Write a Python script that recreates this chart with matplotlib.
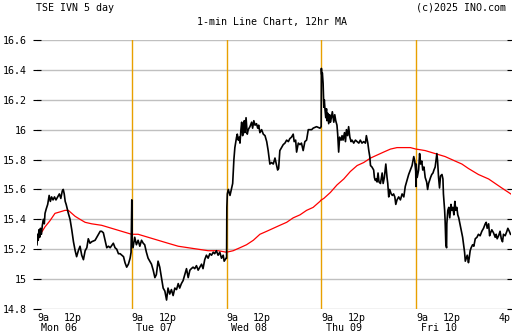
import matplotlib.pyplot as plt
import matplotlib.transforms as mtransforms

# 1-min prices: minutes after the open, price
mon_t = [0, 3, 5, 8, 11, 14, 18, 22, 26, 30, 33, 38, 44, 50, 55, 60, 66, 72, 78, 85,
         92, 98, 104, 108, 112, 116, 120, 129, 136, 143, 150, 157, 163, 170, 177, 184, 191, 198, 205, 211,
         218, 225, 239, 253, 260, 266, 273, 280, 287, 294, 301, 314, 321, 328, 335, 342, 349, 356, 362, 369,
         376, 383, 387]
mon_p = [15.23, 15.30, 15.26, 15.33, 15.28, 15.34, 15.30, 15.36, 15.40, 15.37, 15.44, 15.47, 15.50, 15.56, 15.52, 15.55, 15.53, 15.55, 15.53, 15.55,
         15.57, 15.54, 15.59, 15.60, 15.57, 15.52, 15.50, 15.44, 15.40, 15.33, 15.25, 15.19, 15.15, 15.19, 15.22, 15.16, 15.13, 15.19, 15.21, 15.27,
         15.24, 15.25, 15.26, 15.30, 15.32, 15.32, 15.31, 15.26, 15.21, 15.22, 15.21, 15.24, 15.21, 15.20, 15.17, 15.17, 15.16, 15.15, 15.11, 15.08,
         15.10, 15.14, 15.18]

tue_t = [0, 1, 5, 12, 19, 26, 33, 40, 47, 53, 60, 67, 74, 81, 88, 95, 101, 108, 115, 122,
         129, 136, 143, 149, 156, 163, 170, 177, 184, 191, 197, 204, 211, 218, 225, 232, 239, 245, 252, 259,
         266, 273, 280, 287, 293, 300, 307, 314, 321, 328, 335, 341, 348, 355, 362, 369, 376, 380, 388]
tue_p = [15.53, 15.26, 15.21, 15.28, 15.23, 15.26, 15.22, 15.26, 15.24, 15.23, 15.18, 15.14, 15.12, 15.10, 15.06, 15.01, 15.03, 15.12, 15.08, 15.01,
         14.94, 14.92, 14.86, 14.94, 14.90, 14.93, 14.89, 14.94, 14.93, 14.97, 14.94, 14.97, 14.99, 15.03, 15.07, 15.01, 15.06, 15.07, 15.08, 15.07,
         15.09, 15.06, 15.08, 15.10, 15.07, 15.13, 15.16, 15.14, 15.17, 15.16, 15.18, 15.17, 15.19, 15.16, 15.18, 15.14, 15.16, 15.12, 15.14]

wed_t = [0, 1, 3, 7, 14, 21, 25, 30, 34, 41, 44, 48, 52, 55, 59, 62, 66, 69, 73, 75,
         80, 85, 89, 96, 103, 107, 112, 117, 123, 128, 132, 137, 144, 151, 158, 165, 171, 178, 185, 192,
         199, 206, 210, 214, 219, 226, 233, 240, 247, 254, 260, 267, 274, 278, 284, 288, 295, 302, 308, 315,
         322, 329, 336, 343, 350, 356, 370, 384, 389]
wed_p = [15.14, 15.48, 15.57, 15.60, 15.56, 15.61, 15.64, 15.80, 15.88, 15.95, 15.97, 15.93, 15.95, 15.91, 16.00, 16.05, 15.96, 16.02, 16.06, 15.98,
         16.08, 15.97, 16.00, 16.02, 16.05, 16.01, 16.06, 16.03, 16.04, 16.01, 16.03, 15.98, 16.00, 15.97, 15.96, 15.92, 15.86, 15.77, 15.78, 15.77,
         15.81, 15.76, 15.73, 15.74, 15.86, 15.88, 15.90, 15.91, 15.93, 15.92, 15.94, 15.95, 15.97, 15.92, 15.93, 15.85, 15.91, 15.90, 15.91, 15.86,
         15.92, 15.93, 16.00, 16.00, 16.00, 16.01, 16.02, 16.01, 16.02]

thu_t = [0, 1, 4, 7, 10, 12, 15, 18, 21, 23, 26, 30, 34, 37, 41, 45, 51, 55, 59, 64,
         67, 71, 75, 81, 85, 89, 95, 99, 103, 108, 112, 117, 122, 126, 133, 140, 147, 154, 160, 167,
         174, 181, 185, 191, 195, 199, 202, 208, 215, 218, 222, 226, 229, 233, 237, 243, 250, 254, 259, 265,
         270, 273, 277, 281, 287, 292, 297, 302, 306, 311, 318, 325, 332, 339, 345, 352, 359, 366, 373, 380,
         384, 388, 389]
thu_p = [16.41, 16.37, 16.38, 16.31, 16.15, 16.20, 16.13, 16.08, 16.14, 16.06, 16.11, 16.04, 16.10, 16.05, 16.08, 16.12, 16.05, 16.10, 16.06, 16.03,
         15.97, 15.85, 15.95, 15.93, 15.96, 15.93, 15.98, 15.92, 16.00, 15.96, 16.02, 15.95, 15.92, 15.93, 15.91, 15.93, 15.92, 15.91, 15.93, 15.91,
         15.92, 15.91, 15.96, 15.91, 15.86, 15.82, 15.76, 15.75, 15.73, 15.68, 15.66, 15.67, 15.65, 15.71, 15.65, 15.64, 15.71, 15.64, 15.68, 15.77,
         15.68, 15.64, 15.55, 15.60, 15.57, 15.56, 15.57, 15.55, 15.50, 15.53, 15.55, 15.53, 15.57, 15.55, 15.62, 15.66, 15.70, 15.73, 15.76, 15.82,
         15.79, 15.72, 15.62]

fri_t = [0, 4, 10, 14, 18, 23, 27, 32, 37, 43, 47, 51, 55, 59, 64, 69, 73, 78, 82, 85,
         88, 92, 96, 100, 106, 110, 112, 117, 119, 122, 125, 126, 130, 134, 138, 143, 147, 151, 155, 159,
         163, 167, 171, 175, 181, 185, 191, 195, 199, 202, 206, 210, 215, 218, 222, 226, 232, 237, 243, 250,
         256, 263, 270, 277, 284, 288, 292, 298, 302, 306, 311, 318, 325, 329, 333, 339, 345, 350, 355, 359,
         366, 373, 377, 383, 388]
fri_p = [15.77, 15.68, 15.73, 15.84, 15.77, 15.79, 15.73, 15.75, 15.68, 15.65, 15.60, 15.64, 15.66, 15.68, 15.70, 15.71, 15.73, 15.75, 15.80, 15.84,
         15.79, 15.68, 15.61, 15.69, 15.70, 15.67, 15.57, 15.46, 15.39, 15.23, 15.21, 15.37, 15.46, 15.48, 15.41, 15.50, 15.46, 15.48, 15.43, 15.52,
         15.46, 15.48, 15.43, 15.41, 15.36, 15.33, 15.28, 15.23, 15.18, 15.12, 15.14, 15.16, 15.11, 15.14, 15.19, 15.21, 15.23, 15.22, 15.27, 15.28,
         15.30, 15.29, 15.32, 15.34, 15.37, 15.38, 15.34, 15.37, 15.29, 15.31, 15.33, 15.31, 15.28, 15.30, 15.27, 15.29, 15.32, 15.27, 15.25, 15.30,
         15.29, 15.32, 15.34, 15.32, 15.30]

# 12hr moving average
mon_ma_t = [0, 14, 33, 53, 74, 95, 115, 129, 143, 157, 177, 198, 225, 266, 307, 348, 389]
mon_ma_p = [15.25, 15.30, 15.35, 15.39, 15.44, 15.45, 15.46, 15.46, 15.44, 15.42, 15.40, 15.38, 15.37, 15.36, 15.34, 15.32, 15.30]
tue_ma_t = [0, 26, 67, 108, 149, 191, 232, 273, 314, 355, 389]
tue_ma_p = [15.30, 15.30, 15.28, 15.26, 15.24, 15.22, 15.21, 15.20, 15.19, 15.19, 15.18]
wed_ma_t = [0, 27, 55, 82, 110, 137, 165, 192, 219, 247, 274, 302, 329, 356, 384, 389]
wed_ma_p = [15.18, 15.19, 15.21, 15.23, 15.26, 15.30, 15.32, 15.34, 15.36, 15.38, 15.41, 15.43, 15.46, 15.48, 15.52, 15.53]
thu_ma_t = [0, 10, 37, 64, 92, 119, 147, 174, 202, 229, 256, 284, 311, 339, 366, 389]
thu_ma_p = [15.53, 15.54, 15.58, 15.63, 15.67, 15.72, 15.76, 15.78, 15.81, 15.83, 15.85, 15.87, 15.88, 15.88, 15.88, 15.87]
fri_ma_t = [0, 37, 78, 119, 160, 188, 215, 256, 298, 325, 352, 380, 389]
fri_ma_p = [15.87, 15.86, 15.84, 15.82, 15.79, 15.77, 15.74, 15.70, 15.67, 15.64, 15.61, 15.58, 15.57]

day_names = ["Mon 06", "Tue 07", "Wed 08", "Thu 09", "Fri 10"]
y_ticks = [14.8, 15, 15.2, 15.4, 15.6, 15.8, 16, 16.2, 16.4, 16.6]
y_labels = ["14.8", "15", "15.2", "15.4", "15.6", "15.8", "16", "16.2", "16.4", "16.6"]

session = 390.0  # minutes per day on the x axis

price_days = [(mon_t, mon_p), (tue_t, tue_p), (wed_t, wed_p), (thu_t, thu_p), (fri_t, fri_p)]
ma_days = [(mon_ma_t, mon_ma_p), (tue_ma_t, tue_ma_p), (wed_ma_t, wed_ma_p),
           (thu_ma_t, thu_ma_p), (fri_ma_t, fri_ma_p)]

px, py = [], []
for i, (t, p) in enumerate(price_days):
    px += [i + m / session for m in t]
    py += p

mx, my = [], []
for i, (t, p) in enumerate(ma_days):
    mx += [i + m / session for m in t]
    my += p

plt.rcParams['font.family'] = ['DejaVu Sans Mono']
font_size = 7.2

fig = plt.figure(figsize=(5.12, 3.35), dpi=100)
ax = fig.add_axes([37 / 512, 1 - 309 / 335, (511 - 37) / 512, (309 - 40) / 335])

ax.set_xlim(0, 5)
ax.set_ylim(14.8, 16.6)

for y in y_ticks:
    ax.axhline(y, color='#c0c0c0', linewidth=1.0, zorder=1)
for d in range(1, 5):
    ax.axvline(d, color='#e8a000', linewidth=1.0, zorder=1.5)

ax.plot(mx, my, color='#ff0000', linewidth=0.9, zorder=2)
ax.plot(px, py, color='black', linewidth=1.2, zorder=3)

for s in ax.spines.values():
    s.set_visible(False)

ax.set_yticks(y_ticks)
ax.set_yticklabels(y_labels, fontsize=font_size)
ax.tick_params(axis='y', left=True, right=True, direction='inout', length=6,
               width=0.8, color='black', pad=4)
ax.set_xticks([])

# time labels under the axis
trans = mtransforms.blended_transform_factory(ax.transData, fig.transFigure)
for i, name in enumerate(day_names):
    ax.text(i, 1 - 318 / 335, "9a", transform=trans, ha='left', va='center', fontsize=font_size)
    ax.text(i + 0.375, 1 - 318 / 335, "12p", transform=trans, ha='center', va='center', fontsize=font_size)
    ax.text(i + 0.237, 1 - 328 / 335, name, transform=trans, ha='center', va='center', fontsize=font_size)
ax.text(5.0, 1 - 318 / 335, "4p", transform=trans, ha='right', va='center', fontsize=font_size)

fig.text(36 / 512, 1 - 8 / 335, "TSE IVN 5 day", ha='left', va='center', fontsize=font_size)
fig.text(506 / 512, 1 - 8 / 335, "(c)2025 INO.com", ha='right', va='center', fontsize=font_size)
fig.text(272 / 512, 1 - 22 / 335, "1-min Line Chart, 12hr MA", ha='center', va='center', fontsize=font_size)

fig.savefig("out.png", dpi=100)
